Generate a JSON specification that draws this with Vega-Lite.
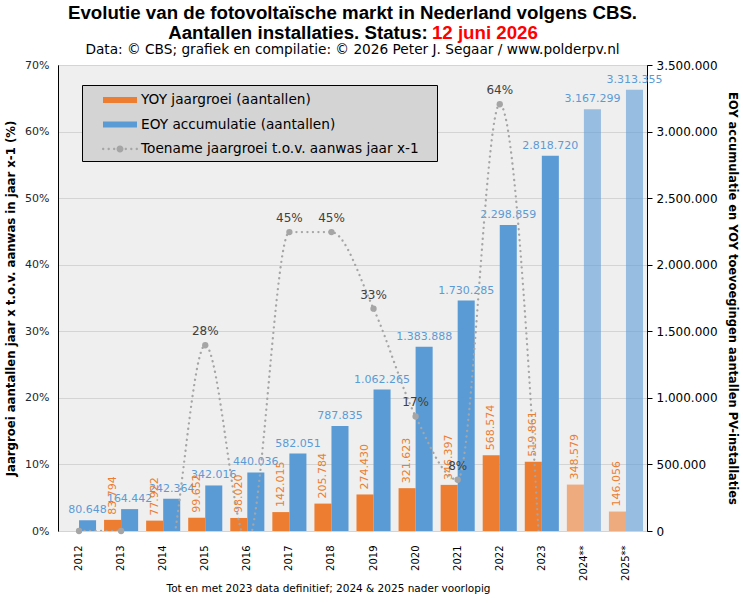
{
  "$schema": "https://vega.github.io/schema/vega-lite/v6.json",
  "padding": {"left": 5, "right": 2, "top": 4, "bottom": 2},
  "title": {
    "text": ["Evolutie van de fotovoltaïsche markt in Nederland volgens CBS.", "Aantallen installaties. Status:\u00a0\u00a0\u00a0\u00a0\u00a0\u00a0\u00a0\u00a0\u00a0\u00a0\u00a0\u00a0\u00a0\u00a0\u00a0\u00a0\u00a0\u00a0\u00a0\u00a0\u00a0\u200b"],
    "subtitle": "\u200b\u00a0\u00a0\u00a0\u00a0\u00a0\u00a0\u00a0\u00a0\u00a0\u00a0\u00a0\u00a0\u00a0\u00a0\u00a0\u00a0\u00a0\u00a0\u00a0\u00a0\u00a0\u00a0\u00a0\u00a0\u00a0\u00a0\u00a0\u00a0\u00a0\u00a0\u00a0\u00a0\u00a0\u00a0\u00a0\u00a0\u00a0\u00a0\u00a0\u00a0\u00a0\u00a0\u00a0\u00a0\u00a0\u00a0\u00a0\u00a0\u00a0\u00a0\u00a012 juni 2026",
    "anchor": "middle",
    "frame": "group",
    "font": "Liberation Sans",
    "fontSize": 18.7,
    "fontWeight": "bold",
    "lineHeight": 20,
    "color": "black",
    "subtitleFont": "Liberation Sans",
    "subtitleFontSize": 18.7,
    "subtitleFontWeight": "bold",
    "subtitleColor": "#ff0000",
    "subtitlePadding": -18.7,
    "offset": 0
  },
  "datasets": {
    "bars": [
      {"jaar": "2012", "reeks": "EOY accumulatie (aantallen)", "aantal": 80648, "voorlopig": false},
      {"jaar": "2013", "reeks": "YOY jaargroei (aantallen)", "aantal": 83794, "voorlopig": false},
      {"jaar": "2013", "reeks": "EOY accumulatie (aantallen)", "aantal": 164442, "voorlopig": false},
      {"jaar": "2014", "reeks": "YOY jaargroei (aantallen)", "aantal": 77922, "voorlopig": false},
      {"jaar": "2014", "reeks": "EOY accumulatie (aantallen)", "aantal": 242364, "voorlopig": false},
      {"jaar": "2015", "reeks": "YOY jaargroei (aantallen)", "aantal": 99652, "voorlopig": false},
      {"jaar": "2015", "reeks": "EOY accumulatie (aantallen)", "aantal": 342016, "voorlopig": false},
      {"jaar": "2016", "reeks": "YOY jaargroei (aantallen)", "aantal": 98020, "voorlopig": false},
      {"jaar": "2016", "reeks": "EOY accumulatie (aantallen)", "aantal": 440036, "voorlopig": false},
      {"jaar": "2017", "reeks": "YOY jaargroei (aantallen)", "aantal": 142015, "voorlopig": false},
      {"jaar": "2017", "reeks": "EOY accumulatie (aantallen)", "aantal": 582051, "voorlopig": false},
      {"jaar": "2018", "reeks": "YOY jaargroei (aantallen)", "aantal": 205784, "voorlopig": false},
      {"jaar": "2018", "reeks": "EOY accumulatie (aantallen)", "aantal": 787835, "voorlopig": false},
      {"jaar": "2019", "reeks": "YOY jaargroei (aantallen)", "aantal": 274430, "voorlopig": false},
      {"jaar": "2019", "reeks": "EOY accumulatie (aantallen)", "aantal": 1062265, "voorlopig": false},
      {"jaar": "2020", "reeks": "YOY jaargroei (aantallen)", "aantal": 321623, "voorlopig": false},
      {"jaar": "2020", "reeks": "EOY accumulatie (aantallen)", "aantal": 1383888, "voorlopig": false},
      {"jaar": "2021", "reeks": "YOY jaargroei (aantallen)", "aantal": 346397, "voorlopig": false},
      {"jaar": "2021", "reeks": "EOY accumulatie (aantallen)", "aantal": 1730285, "voorlopig": false},
      {"jaar": "2022", "reeks": "YOY jaargroei (aantallen)", "aantal": 568574, "voorlopig": false},
      {"jaar": "2022", "reeks": "EOY accumulatie (aantallen)", "aantal": 2298859, "voorlopig": false},
      {"jaar": "2023", "reeks": "YOY jaargroei (aantallen)", "aantal": 519861, "voorlopig": false},
      {"jaar": "2023", "reeks": "EOY accumulatie (aantallen)", "aantal": 2818720, "voorlopig": false},
      {"jaar": "2024**", "reeks": "YOY jaargroei (aantallen)", "aantal": 348579, "voorlopig": true},
      {"jaar": "2024**", "reeks": "EOY accumulatie (aantallen)", "aantal": 3167299, "voorlopig": true},
      {"jaar": "2025**", "reeks": "YOY jaargroei (aantallen)", "aantal": 146056, "voorlopig": true},
      {"jaar": "2025**", "reeks": "EOY accumulatie (aantallen)", "aantal": 3313355, "voorlopig": true}
    ],
    "groei": [
      {"jaar": "2012", "pct": 0},
      {"jaar": "2013", "pct": 0},
      {"jaar": "2014", "pct": -0.070},
      {"jaar": "2015", "pct": 0.279},
      {"jaar": "2016", "pct": -0.016},
      {"jaar": "2017", "pct": 0.449},
      {"jaar": "2018", "pct": 0.449},
      {"jaar": "2019", "pct": 0.334},
      {"jaar": "2020", "pct": 0.172},
      {"jaar": "2021", "pct": 0.077},
      {"jaar": "2022", "pct": 0.641},
      {"jaar": "2023", "pct": -0.086}
    ]
  },
  "vconcat": [
    {
      "title": {
        "text": "Data: © CBS; grafiek en compilatie: © 2026 Peter J. Segaar / www.polderpv.nl",
        "anchor": "middle",
        "frame": "group",
        "font": "DejaVu Sans",
        "fontSize": 13.7,
        "fontWeight": "normal",
        "color": "black",
        "offset": 2
      },
      "width": 589,
      "height": 466,
      "encoding": {
        "x": {
          "field": "jaar",
          "type": "nominal",
          "sort": null,
          "scale": {
            "domain": ["2012", "2013", "2014", "2015", "2016", "2017", "2018", "2019", "2020", "2021", "2022", "2023", "2024**", "2025**"],
            "paddingInner": 0.19,
            "paddingOuter": 0.095
          },
          "axis": {
            "title": "Tot en met 2023 data definitief; 2024 & 2025 nader voorlopig",
            "labelAngle": -90,
            "labelFontSize": 10,
            "labelColor": "black",
            "labelPadding": 14,
            "ticks": false,
            "domainColor": "#d4d4d4",
            "titleFontSize": 10.5,
            "titleFontWeight": "normal",
            "titleColor": "black",
            "titleX": 270,
            "titlePadding": 3
          }
        }
      },
      "layer": [
        {
          "data": {"name": "bars"},
          "encoding": {
            "xOffset": {
              "field": "reeks",
              "type": "nominal",
              "scale": {"domain": ["YOY jaargroei (aantallen)", "EOY accumulatie (aantallen)"], "paddingInner": 0, "paddingOuter": 0}
            },
            "y": {
              "field": "aantal",
              "type": "quantitative",
              "stack": null,
              "scale": {"domain": [0, 3500000], "nice": false},
              "axis": {
                "orient": "right",
                "format": ",d",
                "values": [0, 500000, 1000000, 1500000, 2000000, 2500000, 3000000, 3500000],
                "grid": false,
                "domainColor": "black",
                "tickColor": "black",
                "tickSize": 5,
                "labelFontSize": 12,
                "labelColor": "black",
                "labelPadding": 4,
                "title": "EOY accumulatie en YOY toevoegingen aantallen PV-installaties",
                "titleFontSize": 11.5,
                "titleFontWeight": "bold",
                "titleColor": "black",
                "titlePadding": 9
              }
            }
          },
          "layer": [
            {
              "transform": [{"filter": "!datum.voorlopig"}],
              "mark": {"type": "bar"},
              "encoding": {
                "color": {
                  "field": "reeks",
                  "type": "nominal",
                  "scale": {
                    "domain": ["YOY jaargroei (aantallen)", "EOY accumulatie (aantallen)", "Toename jaargroei t.o.v. aanwas jaar x-1"],
                    "range": ["#ed7d31", "#5b9bd5", "#a5a5a5"]
                  },
                  "legend": {
                    "orient": "none",
                    "legendX": 24,
                    "legendY": 20,
                    "title": null,
                    "fillColor": "#d4d4d4",
                    "strokeColor": "black",
                    "padding": 5,
                    "rowPadding": 7.5,
                    "labelFontSize": 13.7,
                    "labelColor": "black",
                    "labelOffset": 34,
                    "labelLimit": 400,
                    "labelExpr": "datum.label + '\u00a0\u00a0\u00a0\u200b'",
                    "symbolSize": 400,
                    "symbolStrokeWidth": 0,
                    "symbolType": {"expr": "datum.value === 'Toename jaargroei t.o.v. aanwas jaar x-1' ? 'M0.5,0A0.12,0.12,0,1,1,0.74,0A0.12,0.12,0,1,1,0.5,0ZM1.05,0A0.12,0.12,0,1,1,1.29,0A0.12,0.12,0,1,1,1.05,0ZM1.6,0A0.12,0.12,0,1,1,1.84,0A0.12,0.12,0,1,1,1.6,0ZM1.95,0A0.35,0.35,0,1,1,2.65,0A0.35,0.35,0,1,1,1.95,0ZM2.76,0A0.12,0.12,0,1,1,3,0A0.12,0.12,0,1,1,2.76,0ZM3.31,0A0.12,0.12,0,1,1,3.55,0A0.12,0.12,0,1,1,3.31,0ZM3.86,0A0.12,0.12,0,1,1,4.1,0A0.12,0.12,0,1,1,3.86,0Z' : 'M0.6,-0.3H4V0.3H0.6Z'"}
                  }
                }
              }
            },
            {
              "transform": [{"filter": "datum.voorlopig"}],
              "mark": {"type": "bar", "fillOpacity": 0.6},
              "encoding": {"color": {"field": "reeks", "type": "nominal"}}
            },
            {
              "transform": [{"filter": "datum.reeks === 'EOY accumulatie (aantallen)'"}],
              "mark": {"type": "text", "baseline": "bottom", "dy": -5, "fontSize": 11, "color": "#5b9bd5"},
              "encoding": {"text": {"field": "aantal", "type": "quantitative", "format": ",d"}}
            },
            {
              "transform": [{"filter": "datum.reeks === 'YOY jaargroei (aantallen)'"}],
              "mark": {"type": "text", "angle": 270, "align": "left", "baseline": "middle", "dx": 5, "fontSize": 11, "color": "#ed7d31"},
              "encoding": {"text": {"field": "aantal", "type": "quantitative", "format": ",d"}}
            }
          ]
        },
        {
          "data": {"name": "groei"},
          "encoding": {
            "y": {
              "field": "pct",
              "type": "quantitative",
              "scale": {"domain": [0, 0.7], "nice": false},
              "axis": {
                "orient": "left",
                "format": ".0%",
                "values": [0, 0.1, 0.2, 0.3, 0.4, 0.5, 0.6, 0.7],
                "grid": true,
                "gridColor": "#d4d4d4",
                "tickSize": 0,
                "domainColor": "black",
                "labelFontSize": 11,
                "labelColor": "#262626",
                "labelPadding": 9,
                "title": "Jaargroei aantallen jaar x t.o.v. aanwas in jaar x-1 (%)",
                "titleFontSize": 11.7,
                "titleFontWeight": "bold",
                "titleColor": "black",
                "titlePadding": 8
              }
            }
          },
          "layer": [
            {
              "mark": {"type": "line", "interpolate": "monotone", "clip": true, "strokeWidth": 2.3, "strokeDash": [0.1, 5.4], "strokeCap": "round"},
              "encoding": {"color": {"datum": "Toename jaargroei t.o.v. aanwas jaar x-1"}}
            },
            {
              "transform": [{"filter": "datum.pct >= 0"}],
              "mark": {"type": "circle", "size": 40, "color": "#a5a5a5", "opacity": 1}
            },
            {
              "transform": [{"filter": "datum.pct > 0.05"}],
              "mark": {"type": "text", "dy": -14, "fontSize": 12, "color": "#404040"},
              "encoding": {"text": {"field": "pct", "type": "quantitative", "format": ".0%"}}
            }
          ]
        }
      ],
      "resolve": {"scale": {"y": "independent"}}
    }
  ],
  "config": {
    "font": "DejaVu Sans",
    "locale": {"number": {"decimal": ",", "thousands": ".", "grouping": [3], "currency": ["€", ""]}},
    "view": {"fill": "#efefef", "stroke": "black", "strokeWidth": 1},
    "concat": {"spacing": 0}
  }
}
